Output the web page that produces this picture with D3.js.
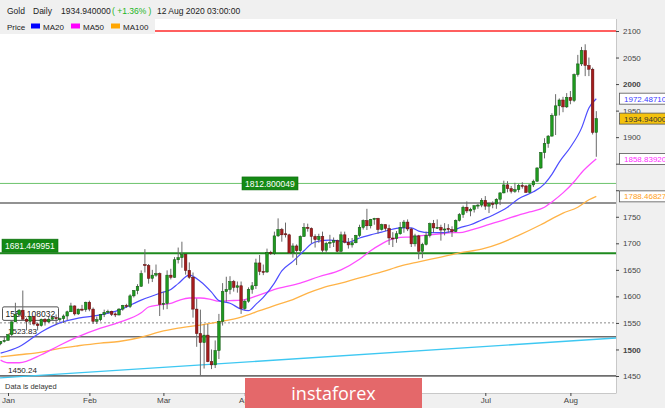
<!DOCTYPE html>
<html><head><meta charset="utf-8">
<script src="https://cdn.jsdelivr.net/npm/d3@7"></script>
<style>
html,body{margin:0;padding:0;background:#f0f0f0;}
svg{display:block;font-family:"Liberation Sans",Arial,sans-serif;}
</style></head><body>
<svg id="c" width="665" height="408"></svg>
<script>
// ---------- DATA ----------
const dates = [
"2019-12-30","2019-12-31",
"2020-01-02","2020-01-03","2020-01-06","2020-01-07","2020-01-08","2020-01-09","2020-01-10","2020-01-13","2020-01-14","2020-01-15","2020-01-16","2020-01-17","2020-01-20","2020-01-21","2020-01-22","2020-01-23","2020-01-24","2020-01-27","2020-01-28","2020-01-29","2020-01-30","2020-01-31",
"2020-02-03","2020-02-04","2020-02-05","2020-02-06","2020-02-07","2020-02-10","2020-02-11","2020-02-12","2020-02-13","2020-02-14","2020-02-17","2020-02-18","2020-02-19","2020-02-20","2020-02-21","2020-02-24","2020-02-25","2020-02-26","2020-02-27","2020-02-28",
"2020-03-02","2020-03-03","2020-03-04","2020-03-05","2020-03-06","2020-03-09","2020-03-10","2020-03-11","2020-03-12","2020-03-13","2020-03-16","2020-03-17","2020-03-18","2020-03-19","2020-03-20","2020-03-23","2020-03-24","2020-03-25","2020-03-26","2020-03-27","2020-03-30","2020-03-31",
"2020-04-01","2020-04-02","2020-04-03","2020-04-06","2020-04-07","2020-04-08","2020-04-09","2020-04-10","2020-04-13","2020-04-14","2020-04-15","2020-04-16","2020-04-17","2020-04-20","2020-04-21","2020-04-22","2020-04-23","2020-04-24","2020-04-27","2020-04-28","2020-04-29","2020-04-30",
"2020-05-01","2020-05-04","2020-05-05","2020-05-06","2020-05-07","2020-05-08","2020-05-11","2020-05-12","2020-05-13","2020-05-14","2020-05-15","2020-05-18","2020-05-19","2020-05-20","2020-05-21","2020-05-22","2020-05-25","2020-05-26","2020-05-27","2020-05-28","2020-05-29",
"2020-06-01","2020-06-02","2020-06-03","2020-06-04","2020-06-05","2020-06-08","2020-06-09","2020-06-10","2020-06-11","2020-06-12","2020-06-15","2020-06-16","2020-06-17","2020-06-18","2020-06-19","2020-06-22","2020-06-23","2020-06-24","2020-06-25","2020-06-26","2020-06-29","2020-06-30",
"2020-07-01","2020-07-02","2020-07-03","2020-07-06","2020-07-07","2020-07-08","2020-07-09","2020-07-10","2020-07-13","2020-07-14","2020-07-15","2020-07-16","2020-07-17","2020-07-20","2020-07-21","2020-07-22","2020-07-23","2020-07-24","2020-07-27","2020-07-28","2020-07-29","2020-07-30","2020-07-31",
"2020-08-03","2020-08-04","2020-08-05","2020-08-06","2020-08-07","2020-08-10","2020-08-11","2020-08-12"];

const open = [1511,1515,
1517,1528,1552,1566,1574,1557,1553,1562,1548,1545,1557,1552,1557,1560,1557,1558,1563,1571,1582,1567,1576,1575,
1589,1576,1553,1556,1566,1570,1572,1567,1565,1576,1583,1581,1601,1611,1619,1660,1658,1634,1640,1643,
1585,1587,1640,1636,1669,1673,1679,1649,1636,1576,1530,1513,1527,1477,1471,1498,1553,1609,1613,1628,1617,1620,
1577,1591,1613,1620,1663,1647,1646,1683,1681,1714,1726,1718,1716,1682,1695,1686,1713,1730,1728,1713,1707,1713,
1687,1700,1702,1705,1685,1716,1702,1697,1701,1715,1730,1743,1733,1745,1747,1726,1735,1728,1710,1709,1718,
1730,1740,1727,1699,1714,1685,1698,1715,1737,1729,1730,1725,1728,1726,1722,1743,1754,1768,1761,1764,1771,1772,
1781,1770,1775,1774,1783,1795,1810,1803,1798,1801,1809,1808,1796,1810,1817,1842,1871,1888,1902,1941,1959,1970,1957,
1975,1969,2018,2038,2063,2035,2028,1909];

const high = [1516,1524,
1529,1553,1588,1576,1611,1560,1562,1563,1550,1558,1559,1561,1562,1566,1560,1566,1573,1588,1583,1577,1584,1590,
1592,1579,1562,1567,1575,1575,1573,1570,1578,1584,1586,1604,1612,1623,1649,1689,1661,1650,1660,1645,
1609,1649,1652,1674,1692,1703,1680,1664,1645,1596,1575,1547,1548,1500,1517,1567,1625,1637,1638,1631,1628,1628,
1594,1617,1627,1671,1678,1660,1690,1686,1722,1747,1729,1739,1718,1700,1698,1715,1738,1737,1730,1717,1718,1722,
1703,1716,1711,1707,1722,1722,1710,1710,1716,1735,1745,1765,1746,1748,1748,1737,1736,1735,1721,1723,1740,
1744,1745,1729,1718,1716,1701,1722,1739,1744,1745,1735,1738,1736,1732,1745,1757,1771,1779,1767,1771,1774,1785,
1789,1777,1779,1785,1796,1818,1817,1808,1814,1812,1815,1810,1811,1820,1843,1872,1898,1904,1945,1981,1973,1976,1983,
1987,2020,2055,2070,2075,2050,2031,1949];

const low = [1508,1513,
1517,1525,1552,1561,1556,1536,1546,1545,1536,1543,1545,1550,1556,1546,1552,1550,1555,1571,1564,1565,1572,1571,
1572,1548,1548,1553,1561,1567,1563,1561,1564,1573,1578,1578,1598,1604,1618,1645,1624,1627,1637,1563,
1575,1576,1632,1635,1662,1654,1641,1633,1560,1505,1451,1464,1476,1463,1465,1482,1545,1590,1604,1609,1607,1567,
1574,1588,1605,1614,1640,1640,1644,1678,1678,1712,1703,1711,1680,1673,1659,1683,1712,1722,1700,1692,1701,1682,
1681,1691,1693,1683,1682,1700,1690,1692,1700,1712,1726,1725,1728,1735,1718,1724,1723,1697,1693,1701,1716,
1720,1723,1693,1694,1670,1672,1696,1711,1720,1727,1705,1715,1720,1712,1721,1741,1748,1757,1751,1758,1765,1768,
1763,1757,1766,1765,1772,1794,1796,1794,1795,1796,1803,1795,1794,1806,1816,1840,1860,1880,1901,1904,1941,1947,1955,
1962,1966,2014,2034,2015,2015,1905,1863];

const close = [1515,1517,
1528,1552,1566,1574,1557,1553,1562,1548,1545,1557,1552,1557,1560,1558,1558,1563,1571,1582,1567,1576,1575,1589,
1576,1553,1556,1566,1570,1572,1566,1565,1576,1583,1581,1601,1611,1619,1643,1658,1634,1640,1643,1585,
1587,1640,1636,1669,1673,1679,1649,1636,1576,1530,1513,1527,1477,1471,1498,1553,1609,1613,1628,1617,1620,1577,
1591,1613,1620,1663,1647,1646,1683,1681,1714,1726,1716,1716,1682,1695,1686,1713,1730,1728,1713,1707,1713,1687,
1700,1702,1705,1685,1716,1702,1697,1701,1715,1730,1743,1733,1745,1747,1726,1735,1728,1710,1709,1718,1730,
1740,1727,1699,1714,1685,1698,1715,1737,1729,1730,1725,1727,1726,1722,1743,1754,1768,1761,1764,1771,1772,1781,
1770,1775,1774,1783,1795,1810,1803,1798,1801,1809,1808,1796,1810,1817,1842,1871,1888,1902,1941,1959,1970,1957,1975,
1969,2018,2038,2063,2035,2028,1909,1934.94];

const ma20Dates = ["2019-12-30","2020-01-07","2020-01-15","2020-01-22","2020-01-29","2020-02-06","2020-02-13","2020-02-21","2020-02-28","2020-03-04","2020-03-06","2020-03-11","2020-03-16","2020-03-19","2020-03-23","2020-03-26","2020-03-31","2020-04-02","2020-04-06","2020-04-08","2020-04-13","2020-04-15","2020-04-20","2020-04-23","2020-04-27","2020-04-29","2020-05-04","2020-05-07","2020-05-11","2020-05-14","2020-05-19","2020-05-22","2020-05-26","2020-05-29","2020-06-03","2020-06-05","2020-06-10","2020-06-15","2020-06-17","2020-06-22","2020-06-25","2020-06-30","2020-07-03","2020-07-09","2020-07-14","2020-07-20","2020-07-23","2020-07-27","2020-07-29","2020-08-03","2020-08-06","2020-08-10","2020-08-12"];
const ma20Values = [1493,1505,1533,1550,1559,1565,1574,1593,1606,1613,1624,1640,1628,1608,1592,1587,1576,1573,1585,1598,1625,1648,1666,1686,1699,1704,1706,1704,1702,1710,1716,1721,1725,1729,1729,1723,1720,1720,1721,1729,1735,1744,1753,1768,1784,1797,1812,1830,1853,1881,1917,1955,1972.4871];

const ma50Dates = ["2019-12-30","2020-01-02","2020-01-07","2020-01-15","2020-01-22","2020-01-29","2020-02-06","2020-02-13","2020-02-21","2020-02-25","2020-02-28","2020-03-04","2020-03-06","2020-03-11","2020-03-16","2020-03-19","2020-03-23","2020-03-26","2020-03-31","2020-04-07","2020-04-14","2020-04-22","2020-04-29","2020-05-07","2020-05-14","2020-05-19","2020-05-22","2020-05-26","2020-05-29","2020-06-03","2020-06-05","2020-06-10","2020-06-15","2020-06-18","2020-06-22","2020-06-25","2020-06-30","2020-07-07","2020-07-14","2020-07-17","2020-07-23","2020-07-27","2020-07-30","2020-08-04","2020-08-06","2020-08-11","2020-08-12"];
const ma50Values = [1480,1475,1475,1490,1508,1524,1540,1551,1569,1580,1584,1587,1592,1597,1597,1594,1591,1592,1593,1603,1615,1625,1637,1650,1670,1686,1699,1706,1711,1712,1714,1716,1718,1720,1720,1725,1731,1742,1753,1759,1768,1778,1795,1816,1833,1853,1858.8392];

const ma100Dates = ["2019-12-30","2020-01-07","2020-01-15","2020-01-22","2020-01-29","2020-02-06","2020-02-13","2020-02-21","2020-02-28","2020-03-06","2020-03-16","2020-03-23","2020-03-31","2020-04-07","2020-04-14","2020-04-20","2020-04-24","2020-04-30","2020-05-07","2020-05-14","2020-05-22","2020-05-29","2020-06-05","2020-06-15","2020-06-22","2020-06-30","2020-07-07","2020-07-14","2020-07-22","2020-07-30","2020-08-05","2020-08-10","2020-08-12"];
const ma100Values = [1486,1490,1495,1502,1507,1512,1515,1523,1533,1540,1546,1552,1561,1573,1585,1594,1606,1616,1625,1635,1646,1657,1665,1674,1682,1689,1700,1715,1735,1757,1768,1782,1788.46827];

// Horizontal levels and trend line
const levelValues = [2100, 1812.800049, 1776, 1681.449951, 1550.108032, 1523.83, 1450.24];
const trendDates = ["2019-12-30","2020-08-12"];
const trendValues = [1446.4, 1519.2];

const priceTicks = [1450,1500,1550,1600,1650,1700,1750,1800,1850,1900,1950,2000,2050,2100];
const monthTickDates = ["2020-01-02","2020-02-03","2020-03-02","2020-04-01","2020-07-01","2020-08-03"];
const monthLabels = ["Jan","Feb","Mar","Apr","Jul","Aug"];

const headerLast = "1934.940000";
const headerChange = "( +1.36% )";
const headerTime = "12 Aug 2020 03:00:00";

// ---------- DRAW ----------
const svg = d3.select("#c");
const P = {x0:0, x1:616, y0:19, y1:393};
const x = d3.scalePoint().domain(dates).range([0.6, 596.3]);
const y = d3.scaleLinear().domain([1450, 2100]).range([376, 31]);

svg.append("rect").attr("width",665).attr("height",408).attr("fill","#f0f0f0");
svg.append("rect").attr("x",P.x0).attr("y",P.y0).attr("width",P.x1-P.x0).attr("height",P.y1-P.y0).attr("fill","#ffffff");
svg.append("defs").append("clipPath").attr("id","pc").append("rect")
  .attr("x",P.x0).attr("y",P.y0).attr("width",P.x1-P.x0).attr("height",P.y1-P.y0);

const g = svg.append("g").attr("clip-path","url(#pc)");

// level lines
const levelStyle = [
  {c:"#ff2a2a", w:1.6},
  {c:"#6cc36c", w:1},
  {c:"#6e6e6e", w:1.6},
  {c:"#1e8a1e", w:2},
  {c:"#8a8a8a", w:1, dash:"2,2"},
  {c:"#6e6e6e", w:1.6},
  {c:"#6e6e6e", w:1.6}
];
levelValues.forEach((v,i)=>{
  const s = levelStyle[i];
  g.append("line").attr("x1",P.x0).attr("x2",P.x1).attr("y1",y(v)).attr("y2",y(v))
    .attr("stroke",s.c).attr("stroke-width",s.w).attr("stroke-dasharray",s.dash||null);
});

// trend line extended to plot edges
{
  const tx0 = x(trendDates[0]), tx1 = x(trendDates[1]);
  const ty0 = y(trendValues[0]), ty1 = y(trendValues[1]);
  const k = (ty1-ty0)/(tx1-tx0);
  g.append("line").attr("x1",P.x0).attr("y1",ty0 + k*(P.x0-tx0))
    .attr("x2",P.x1).attr("y2",ty0 + k*(P.x1-tx0))
    .attr("stroke","#3ec8f2").attr("stroke-width",1.3);
}

// left label box 1550.108032 (under candles)
{
  const v = levelValues[4];
  g.append("rect").attr("x",2.5).attr("y",y(v)-16).attr("width",56).attr("height",13.5)
    .attr("fill","#ffffff").attr("stroke","#555").attr("stroke-width",1).attr("rx",1.5);
  g.append("text").attr("x",5.5).attr("y",y(v)-6).attr("font-size",8.5).attr("fill","#222")
    .text(String(v));
}
// plain labels
g.append("text").attr("x",8).attr("y",y(levelValues[5])-3).attr("font-size",8).attr("fill","#222").text(levelValues[5].toFixed(2));
g.append("text").attr("x",8).attr("y",y(levelValues[6])-3).attr("font-size",8).attr("fill","#222").text(levelValues[6].toFixed(2));

// moving averages
const mkLine = d3.line().x(d=>x(d[0])).y(d=>y(d[1])).curve(d3.curveMonotoneX);
const zip = (a,b)=>a.map((d,i)=>[d,b[i]]);
g.append("path").attr("d",mkLine(zip(ma100Dates,ma100Values))).attr("fill","none").attr("stroke","#ffb347").attr("stroke-width",1.3);
g.append("path").attr("d",mkLine(zip(ma50Dates,ma50Values))).attr("fill","none").attr("stroke","#ff4dff").attr("stroke-width",1.3);
g.append("path").attr("d",mkLine(zip(ma20Dates,ma20Values))).attr("fill","none").attr("stroke","#4d4dff").attr("stroke-width",1.2);

// candles
const bw = 2.6;
const candles = dates.map((d,i)=>({d, o:open[i], h:high[i], l:low[i], c:close[i]}));
const cg = g.append("g");
cg.selectAll("line.w").data(candles).join("line").attr("class","w")
  .attr("x1",d=>x(d.d)).attr("x2",d=>x(d.d)).attr("y1",d=>y(d.h)).attr("y2",d=>y(d.l))
  .attr("stroke","#6a6a6a").attr("stroke-width",1);
cg.selectAll("rect.b").data(candles).join("rect").attr("class","b")
  .attr("x",d=>x(d.d)-bw/2).attr("width",bw)
  .attr("y",d=>y(Math.max(d.o,d.c)))
  .attr("height",d=>Math.max(1, Math.abs(y(d.o)-y(d.c))))
  .attr("fill",d=>d.c>=d.o?"#1f9a1f":"#a51c1c")
  .attr("stroke",d=>d.c>=d.o?"#0e540e":"#5a0c0c").attr("stroke-width",0.5);

// green level boxes
function greenBox(bx, by, v){
  g.append("rect").attr("x",bx).attr("y",by).attr("width",56).attr("height",13)
    .attr("fill","#148a14").attr("stroke","#0d6a0d").attr("stroke-width",0.6);
  g.append("text").attr("x",bx+3).attr("y",by+9.7).attr("font-size",8.5).attr("fill","#ffffff").text(String(v));
}
greenBox(242, y(levelValues[1])-6.5, levelValues[1]);
greenBox(2, y(levelValues[3])-14, levelValues[3]);

// plot border
svg.append("line").attr("x1",P.x1+0.5).attr("x2",P.x1+0.5).attr("y1",P.y0).attr("y2",P.y1).attr("stroke","#c8c8c8");
svg.append("line").attr("x1",0).attr("x2",P.x1+0.5).attr("y1",P.y1+0.5).attr("y2",P.y1+0.5).attr("stroke","#c8c8c8");

svg.append("text").attr("x",5).attr("y",389).attr("font-size",7.5).attr("fill","#333").text("Data is delayed");

// right value boxes (values)
const valBoxes = [
  {v: ma20Values[ma20Values.length-1], fill:"#ffffff", col:"#3a3aff"},
  {v: close[close.length-1], fill:"#f4c20d", col:"#333"},
  {v: ma50Values[ma50Values.length-1], fill:"#ffffff", col:"#ff2cff"},
  {v: ma100Values[ma100Values.length-1], fill:"#ffffff", col:"#ffa020"}
];

// right axis
const gy = svg.append("g").attr("transform",`translate(${P.x1},0)`)
  .call(d3.axisRight(y).tickValues(priceTicks).tickSize(3).tickPadding(4).tickFormat(d3.format("d")));
gy.select(".domain").remove();
gy.selectAll("line").attr("stroke","#444");
gy.selectAll("text").attr("font-size",8).attr("fill","#444")
  .attr("font-family","'Liberation Sans',Arial,sans-serif")
  .attr("font-weight",d=>d%500===0?"bold":"normal")
  .style("display",d=>valBoxes.some(b=>Math.abs(y(b.v)-y(d))<7.5)?"none":null);

// bottom axis
const gx = svg.append("g").attr("transform",`translate(0,${P.y1})`)
  .call(d3.axisBottom(x).tickValues(monthTickDates).tickSize(3).tickPadding(1).tickFormat((d,i)=>monthLabels[i]));
gx.select(".domain").remove();
gx.selectAll("line").attr("stroke","#444");
gx.selectAll("text").attr("font-size",8).attr("fill","#444").attr("font-family","'Liberation Sans',Arial,sans-serif");

valBoxes.forEach(b=>{
  const cy = y(b.v);
  svg.append("rect").attr("x",619.5).attr("y",cy-5.5).attr("width",50).attr("height",11)
    .attr("fill",b.fill).attr("stroke","#555").attr("stroke-width",0.8);
  svg.append("text").attr("x",624).attr("y",cy+3).attr("font-size",8).attr("fill",b.col).text(b.v.toFixed(5));
});

// header
svg.append("rect").attr("x",0).attr("y",0).attr("width",665).attr("height",P.y0).attr("fill","#f0f0f0");
const ht = (tx,s,col)=>svg.append("text").attr("x",tx).attr("y",13.5).attr("font-size",8.5).attr("fill",col||"#222").text(s);
ht(7,"Gold"); ht(33,"Daily"); ht(61,headerLast); ht(112,headerChange,"#22b422"); ht(157,headerTime);

// legend
svg.append("rect").attr("x",0).attr("y",P.y0).attr("width",155).attr("height",15).attr("fill","#f0f0f0");
const ly = 30;
svg.append("text").attr("x",7).attr("y",ly).attr("font-size",8).attr("fill","#222").text("Price");
const legItems = [["MA20","#0000ff",31],["MA50","#ff00ff",71],["MA100","#ffa500",111]];
legItems.forEach(([t,c,lx])=>{
  svg.append("rect").attr("x",lx).attr("y",23.5).attr("width",9).attr("height",5).attr("fill",c);
  svg.append("text").attr("x",lx+12).attr("y",ly).attr("font-size",8).attr("fill","#222").text(t);
});

// watermark badge
svg.append("rect").attr("x",245).attr("y",378).attr("width",177).attr("height",30).attr("fill","#e4686a");
svg.append("text").attr("x",333.5).attr("y",400).attr("text-anchor","middle")
  .attr("font-family","'Open Sans',sans-serif").attr("font-size",18).attr("fill","#ffffff").text("instaforex");
</script>
</body></html>
